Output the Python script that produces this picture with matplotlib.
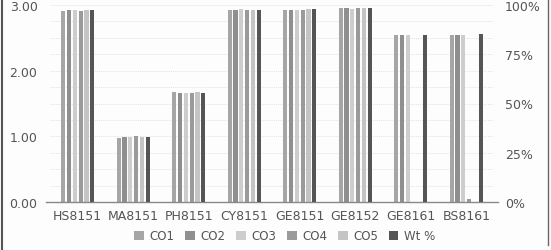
import matplotlib
matplotlib.use("Agg")
import matplotlib.pyplot as plt
import numpy as np
from matplotlib.lines import Line2D

categories = ["HS8151", "MA8151", "PH8151", "CY8151", "GE8151", "GE8152", "GE8161", "BS8161"]
co1 = [2.91, 0.98, 1.67, 2.92, 2.93, 2.95, 2.55, 2.55]
co2 = [2.93, 0.99, 1.66, 2.93, 2.93, 2.95, 2.55, 2.55]
co3 = [2.92, 0.99, 1.66, 2.94, 2.92, 2.94, 2.55, 2.55]
co4 = [2.91, 1.00, 1.66, 2.93, 2.93, 2.95, 0.0, 0.05]
co5 = [2.92, 0.99, 1.68, 2.92, 2.94, 2.95, 0.0, 0.0]
wt_pct = [97.5, 33.0, 55.5, 97.6, 97.8, 98.4, 85.0, 85.3]

series_names = ["CO1", "CO2", "CO3", "CO4", "CO5", "Wt %"]
colors = ["#a6a6a6", "#8f8f8f", "#cdcdcd", "#9a9a9a", "#c4c4c4", "#555555"]
left_ticks = [0.0, 1.0, 2.0, 3.0]
right_ticks = [0, 25, 50, 75, 100]

fig = plt.figure(figsize=(5.51, 2.51), dpi=100)
fig.patch.set_facecolor("#fdfdfd")
ax = fig.add_axes([50/551, 1-203/251, 444/551, 197/251])
ax2 = ax.twinx()
ax.set_facecolor("none")

x = np.arange(len(categories))
pitch = 0.105
width = 0.075
left_series = [co1, co2, co3, co4, co5]
handles = []
for i, vals in enumerate(left_series):
    off = (i - 2.5) * pitch
    h = ax.bar(x + off, vals, width, color=colors[i], label=series_names[i], zorder=3)
    handles.append(h)
h = ax2.bar(x + 2.5 * pitch, wt_pct, width, color=colors[5], label=series_names[5], zorder=3)
handles.append(h)

ax.set_xlim(-0.5, len(categories) - 0.5)
ax.set_ylim(0, 3)
ax2.set_ylim(0, 100)
ax.set_yticks(left_ticks)
ax.set_yticklabels([f"{v:.2f}" for v in left_ticks])
ax2.set_yticks(right_ticks)
ax2.set_yticklabels([f"{v}%" for v in right_ticks])
ax.set_xticks(x)
ax.set_xticklabels(categories)

for a in (ax, ax2):
    for s in a.spines.values():
        s.set_visible(False)
    a.tick_params(length=0, labelsize=9, colors="#555555")
ax.tick_params(axis="y", pad=9)
ax.tick_params(axis="x", pad=5)
ax2.tick_params(axis="y", pad=8)

for gy in np.arange(0.25, 3.01, 0.25):
    ax.axhline(gy, color="#e4e4e4", lw=0.7, ls=(0, (1, 1)), zorder=1)
ax.axhline(0, color="#888888", lw=1.0, zorder=4, xmin=-0.01, xmax=1.01, clip_on=False)

fig.legend(handles, series_names, loc="center", bbox_to_anchor=(285/551, 1-237/251),
           ncol=6, frameon=False, fontsize=8.5, handlelength=0.8, handleheight=0.8,
           columnspacing=0.9, handletextpad=0.5, labelcolor="#555555")

fig.add_artist(Line2D([0.003, 0.003], [0, 1], transform=fig.transFigure, color="#555555", lw=1.5))
fig.add_artist(Line2D([548/551, 548/551], [0.02, 1], transform=fig.transFigure, color="#666666", lw=1.0))

fig.savefig("out.png", dpi=100, facecolor=fig.get_facecolor())
